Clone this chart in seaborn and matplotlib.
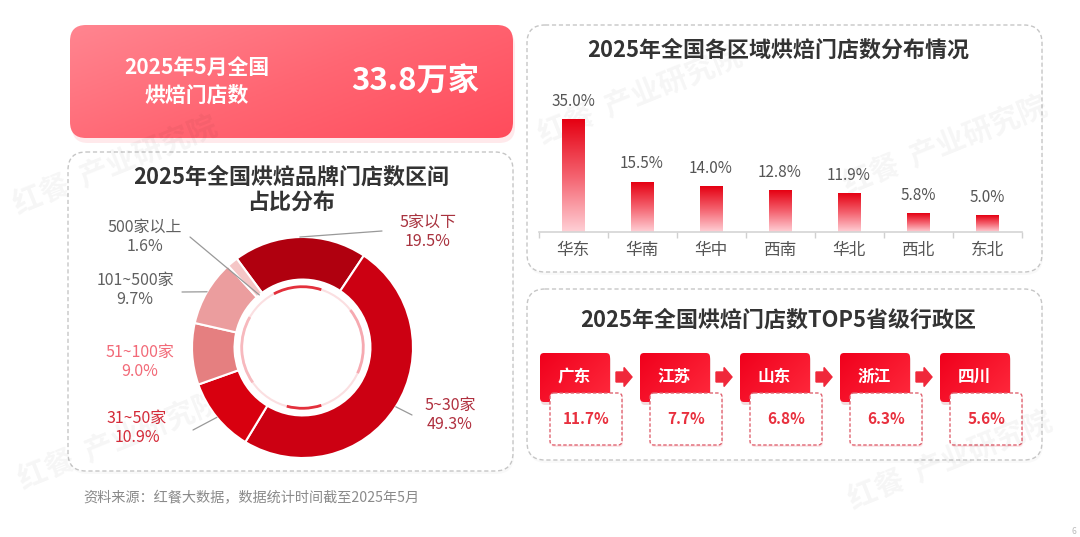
import numpy as np
import matplotlib
matplotlib.use("Agg")
import matplotlib.pyplot as plt
import seaborn as sns
import pandas as pd
from matplotlib.patches import FancyBboxPatch, Arc, FancyArrow
from matplotlib.colors import LinearSegmentedColormap

# --- data ---
total_label = "2025年5月全国\n烘焙门店数"
total_value = "33.8万家"

brand_bins = ["5家以下", "5~30家", "31~50家", "51~100家", "101~500家", "500家以上"]
brand_share = [19.5, 49.3, 10.9, 9.0, 9.7, 1.6]

regions = ["华东", "华南", "华中", "西南", "华北", "西北", "东北"]
region_share = [35.0, 15.5, 14.0, 12.8, 11.9, 5.8, 5.0]

top_provinces = ["广东", "江苏", "山东", "浙江", "四川"]
top_share = [11.7, 7.7, 6.8, 6.3, 5.6]

source_note = "资料来源：红餐大数据，数据统计时间截至2025年5月"

# --- style ---
wedge_colors = ["#b0000f", "#cc0012", "#d8000f", "#e57f80", "#eb9d9e", "#f5c6c6"]
label_colors = ["#a8323e", "#b0303f", "#d42a38", "#f26a78", "#606060", "#606060"]

sns.set_theme(style="white")
plt.rcParams['font.family'] = ['Noto Sans CJK SC', 'DejaVu Sans']

W, H = 1080, 537
fig = plt.figure(figsize=(10.8, 5.37), dpi=100)
fig.patch.set_facecolor("white")
bg = fig.add_axes([0, 0, 1, 1])
bg.axis("off")


def px_axes(x0, y0, x1, y1):
    return fig.add_axes([x0 / W, 1 - y1 / H, (x1 - x0) / W, (y1 - y0) / H])


def rbox(x0, y0, w, h, r, **kw):
    p = FancyBboxPatch((x0, y0), w, h, boxstyle=f"round,pad=0,rounding_size={r}", **kw)
    bg.add_patch(p)
    return p


def grad_fill(patch, x0, y0, w, h, colors, z):
    gx, gy = np.meshgrid(np.linspace(0, 1, 200), np.linspace(0, 1, 80))
    g = 0.6 * gx + 0.4 * gy
    cm = LinearSegmentedColormap.from_list("g", colors)
    im = bg.imshow(g, extent=(x0, x0 + w, y0 + h, y0), origin="upper",
                   cmap=cm, aspect="auto", zorder=z)
    im.set_clip_path(patch)


# panels
for (x0, y0, x1, y1) in [(68, 152, 513, 471), (527, 25, 1042, 272), (527, 289, 1042, 460)]:
    rbox(x0 + 1, y0 + 3, x1 - x0, y1 - y0, 18, fc="#000000", ec="none", alpha=0.025, zorder=0)
    rbox(x0, y0, x1 - x0, y1 - y0, 18, fc="white", ec="#c6c6c6", lw=1.0,
         ls=(0, (3, 2)), zorder=1)

# top banner
rbox(72, 30, 443, 113, 16, fc="#ff4d5e", ec="none", alpha=0.12, zorder=1)
banner = rbox(70, 25, 443, 113, 16, fc="none", ec="none", zorder=2)
grad_fill(banner, 70, 25, 443, 113, ["#ff8590", "#ff6673", "#ff4c5c"], 2)
bg.text(197, 81, total_label, ha="center", va="center", color="white",
        fontsize=15, fontweight="bold", linespacing=1.4, zorder=3)
bg.text(415, 82, total_value, ha="center", va="center", color="white",
        fontsize=22.5, fontweight="bold", zorder=3)

# titles
bg.text(291, 190, "2025年全国烘焙品牌门店数区间\n占比分布", ha="center", va="center",
        fontsize=15.8, fontweight="bold", color="#333333", linespacing=1.1, zorder=3)
bg.text(778, 50, "2025年全国各区域烘焙门店数分布情况", ha="center", va="center",
        fontsize=15.8, fontweight="bold", color="#333333", zorder=3)
bg.text(778, 320, "2025年全国烘焙门店数TOP5省级行政区", ha="center", va="center",
        fontsize=15.8, fontweight="bold", color="#333333", zorder=3)

# --- donut ---
cx, cy, rad = 302.5, 347.5, 110.5
R = 1.6
side = 2 * R * rad
axd = px_axes(cx - side / 2, cy - side / 2, cx + side / 2, cy + side / 2)
wedges, _ = axd.pie(brand_share, startangle=126.5, counterclock=False, colors=wedge_colors,
                    radius=1, wedgeprops=dict(width=0.385, edgecolor="white", linewidth=1.5))
axd.set_xlim(-R, R)
axd.set_ylim(-R, R)
axd.set_aspect("equal")
axd.axis("off")
axd.patch.set_alpha(0)

# inner decorative arcs
axd.add_patch(Arc((0, 0), 1.1, 1.1, theta1=0, theta2=360, color="#fbdfe1", lw=1.5))
for t1, t2, c in [(72, 118, "#e3303c"), (-105, -72, "#e3303c"),
                  (-25, 38, "#f6a9b0"), (150, 215, "#f7b9be")]:
    axd.add_patch(Arc((0, 0), 1.1, 1.1, theta1=t1, theta2=t2, color=c, lw=2))


def to_d(p):
    return ((p[0] - cx) / rad, (cy - p[1]) / rad)


lbl_px = [(428, 232), (450, 415), (137, 428), (140, 362), (135, 290), (145, 237)]
line_px = [(382, 231), (412, 415), (193, 430), None, (182, 292), (190, 237)]
line_r = [1.0, 1.0, 1.0, None, 1.0, 0.615]
for w, name, val, col, lp, le, lr in zip(wedges, brand_bins, brand_share, label_colors,
                                         lbl_px, line_px, line_r):
    tx, ty = to_d(lp)
    axd.text(tx, ty, f"{name}\n{val:.1f}%", ha="center", va="center", fontsize=11.5,
             color=col, linespacing=1.1, clip_on=False)
    if le is not None:
        mid = np.deg2rad((w.theta1 + w.theta2) / 2)
        ex, ey = to_d(le)
        axd.plot([lr * np.cos(mid), ex], [lr * np.sin(mid), ey], color="#999999",
                 lw=0.9, clip_on=False, zorder=3)

# --- region bars ---
axb = px_axes(538.5, 103, 1021.5, 232)
df_r = pd.DataFrame({"region": regions, "share": region_share})
sns.barplot(data=df_r, x="region", y="share", ax=axb, width=0.32, color="#e60012",
            saturation=1)
bar_cm = LinearSegmentedColormap.from_list("bar", ["#ffd0d6", "#f4616e", "#e50012"])
vgrad = np.linspace(0, 1, 256).reshape(-1, 1)
for p in axb.patches:
    x0, w, h = p.get_x(), p.get_width(), p.get_height()
    axb.imshow(vgrad, extent=(x0, x0 + w, 0, h), origin="lower", cmap=bar_cm,
               aspect="auto", zorder=2)
    p.set_facecolor("none")
    p.set_edgecolor("none")
for i, v in enumerate(region_share):
    axb.text(i, v + 5.6, f"{v:.1f}%", ha="center", va="center", fontsize=11,
             color="#555555", clip_on=False)
axb.set_xlim(-0.5, 6.5)
axb.set_ylim(0, 40)
axb.set_xlabel("")
axb.set_ylabel("")
axb.set_yticks([])
axb.set_xticks(np.arange(-0.5, 7, 1), minor=True)
axb.tick_params(axis="x", which="major", length=0, pad=7, labelsize=12, labelcolor="#555555")
axb.tick_params(axis="x", which="minor", bottom=True, length=4, width=1, color="#d0d0d0")
for s in ["left", "top", "right"]:
    axb.spines[s].set_visible(False)
axb.spines["bottom"].set_color("#d4d4d4")
axb.spines["bottom"].set_linewidth(1.2)
axb.patch.set_alpha(0)

# --- TOP5 provinces ---
for i, (name, v) in enumerate(zip(top_provinces, top_share)):
    off = 100 * i
    rbox(541 + off, 356, 70, 49, 4, fc="#b00010", ec="none", alpha=0.15, zorder=2)
    red = rbox(540 + off, 353, 70, 49, 4, fc="none", ec="none", zorder=3)
    grad_fill(red, 540 + off, 353, 70, 49, ["#f0001c", "#ff2a3d"], 3)
    bg.text(574 + off, 377, name, ha="center", va="center", color="white",
            fontsize=12, fontweight="bold", zorder=4)
    rbox(551 + off, 395, 72, 52, 4, fc="#f3a0a8", ec="none", alpha=0.25, zorder=4)
    rbox(550 + off, 393, 72, 52, 4, fc="white", ec="#e06572", lw=1.0,
         ls=(0, (2.5, 1.5)), zorder=5)
    bg.text(586 + off, 419, f"{v:.1f}%", ha="center", va="center", color="#e8303e",
            fontsize=11, fontweight="bold", zorder=6)
    if i < len(top_provinces) - 1:
        bg.add_patch(FancyArrow(616 + off, 377, 16, 0, width=10, head_width=19,
                                head_length=8, length_includes_head=True,
                                color="#f0283a", zorder=4))

# source + page number
bg.text(83, 498, source_note, ha="left", va="center", fontsize=10.2, color="#8a8a8a")
bg.text(1074, 531, "6", ha="center", va="center", fontsize=6, color="#bbbbbb")

# faint watermarks
for (wx, wy) in [(115, 165), (640, 95), (945, 145), (120, 440), (950, 460)]:
    bg.text(wx, wy, "红餐  产业研究院", ha="center", va="center", fontsize=21,
            fontweight="bold", color="#000000", alpha=0.04, rotation=22, zorder=8)

bg.set_xlim(0, W)
bg.set_ylim(H, 0)

fig.savefig("out.png", dpi=100, facecolor="white")
